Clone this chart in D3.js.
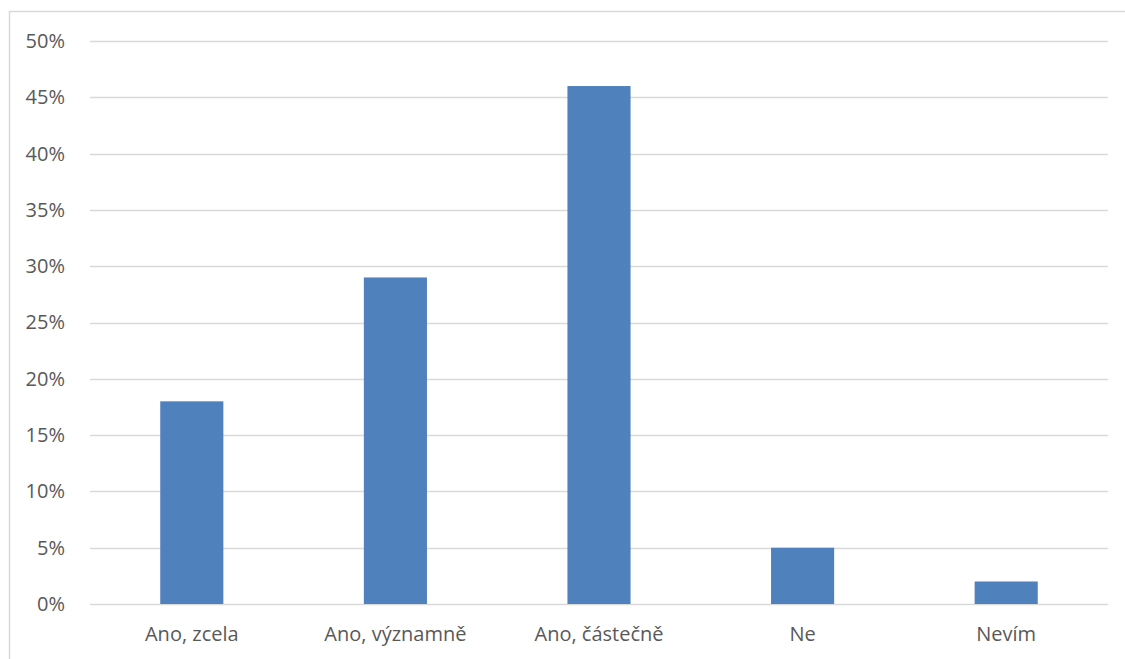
<!DOCTYPE html>
<html>
<head>
<meta charset="utf-8">
<script src="https://cdn.jsdelivr.net/npm/d3@7"></script>
<style>
  body { margin: 0; background: #fff; }
  svg { display: block; }
  .tick text { font-family: "Open Sans", "Liberation Sans", sans-serif; fill: #595959; }
</style>
</head>
<body>
<svg id="chart" width="1125" height="659"></svg>
<script>
var categories = ['Ano, zcela', 'Ano, významně', 'Ano, částečně', 'Ne', 'Nevím'];
var values = [0.18, 0.29, 0.46, 0.05, 0.02];
var yTicks = [0, 0.05, 0.10, 0.15, 0.20, 0.25, 0.30, 0.35, 0.40, 0.45, 0.50];

var svg = d3.select('#chart');
var margin = { top: 41, right: 17, bottom: 55, left: 90 };
var width = 1125 - margin.left - margin.right;
var height = 659 - margin.top - margin.bottom;

// outer chart border (only left/top fall inside the picture)
svg.append('rect')
    .attr('x', 9.5).attr('y', 11.5)
    .attr('width', 1130).attr('height', 660)
    .attr('fill', 'none')
    .attr('stroke', '#d9d9d9')
    .attr('stroke-width', 1.5);

var g = svg.append('g')
    .attr('transform', 'translate(' + margin.left + ',' + margin.top + ')');

var x = d3.scaleBand()
    .domain(categories)
    .range([0, width])
    .paddingInner(0.69)
    .paddingOuter(0.345);

var y = d3.scaleLinear()
    .domain([0, 0.5])
    .range([height, 0]);

// gridlines
g.append('g')
    .selectAll('line')
    .data(yTicks)
    .join('line')
    .attr('x1', 0).attr('x2', width)
    .attr('y1', function(d) { return Math.round(y(d)) + 0.5; })
    .attr('y2', function(d) { return Math.round(y(d)) + 0.5; })
    .attr('stroke', '#d9d9d9')
    .attr('stroke-width', 1.3);

// y axis
var yAxis = g.append('g')
    .attr('transform', 'translate(-22,0)')
    .call(d3.axisLeft(y).tickValues(yTicks).tickFormat(d3.format('.0%')).tickSize(0));
yAxis.select('.domain').remove();
yAxis.selectAll('text').style('font-size', '20px').attr('dx', 0);

// bars
g.append('g')
    .selectAll('rect')
    .data(values)
    .join('rect')
    .attr('x', function(d, i) { return x(categories[i]); })
    .attr('y', function(d) { return y(d); })
    .attr('width', x.bandwidth())
    .attr('height', function(d) { return y(0) - y(d); })
    .attr('fill', '#4f81bd');

// x axis
var xAxis = g.append('g')
    .attr('transform', 'translate(0,' + height + ')')
    .call(d3.axisBottom(x).tickSize(0).tickPadding(23));
xAxis.select('.domain').remove();
xAxis.selectAll('text').style('font-size', '20px');
</script>
</body>
</html>
